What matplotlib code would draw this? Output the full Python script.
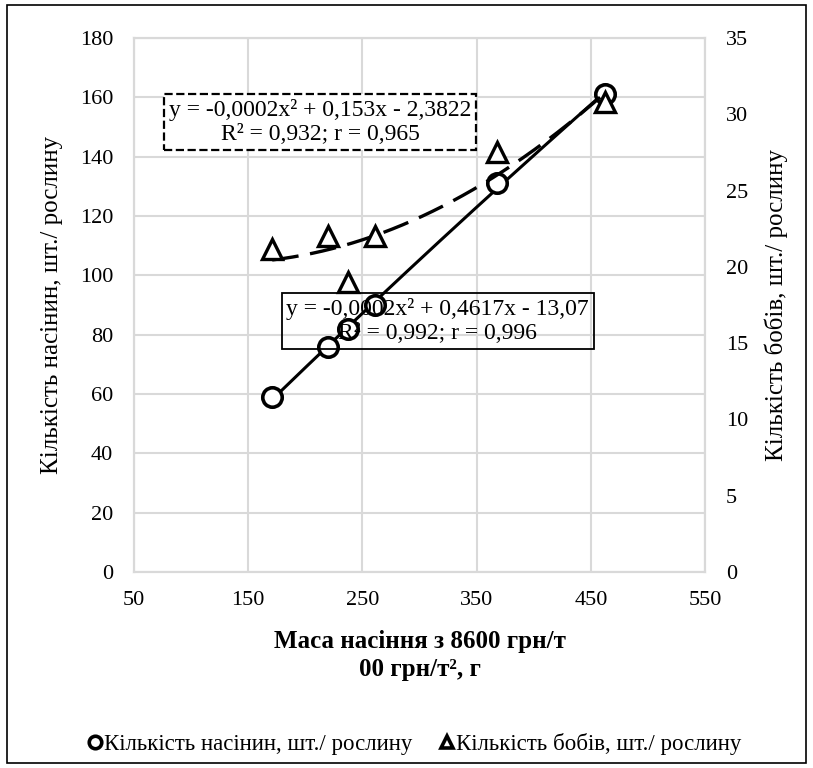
import numpy as np
import matplotlib
matplotlib.use('Agg')
import matplotlib.pyplot as plt
from matplotlib.lines import Line2D
from matplotlib.patches import Rectangle

plt.rcParams['font.family'] = ['Liberation Serif', 'DejaVu Serif']

# data
seed_mass = [171, 220, 237, 261, 368, 462]
seeds = [59, 76, 82, 90, 131, 161]
pods = [21.2, 22, 19, 22, 27.5, 30.8]

LABELS = ['Кількість насінин, шт./ рослину',
          'Кількість бобів, шт./ рослину']
EQ_SEEDS = 'y = -0,0002x² + 0,4617x - 13,07\nR² = 0,992; r = 0,996'
EQ_PODS = 'y = -0,0002x² + 0,153x - 2,3822\nR² = 0,932; r = 0,965'

GRID = '#d9d9d9'
FS = 16

fig = plt.figure(figsize=(8.13, 7.68), dpi=100)
ax = fig.add_axes([0.1648, 0.2552, 0.7024, 0.6953])
ax2 = ax.twinx()

# polynomial trendlines (order 2), as excel does
xs = np.linspace(min(seed_mass), max(seed_mass), 200)
p1 = np.polyfit(seed_mass, seeds, 2)
p2 = np.polyfit(seed_mass, pods, 2)

ax.plot(xs, np.polyval(p1, xs), '-', color='black', lw=2.2, zorder=3)
ax.plot(seed_mass, seeds, 'o', ms=14, mfc='white', mec='black', mew=2.6,
        zorder=4, label=LABELS[0])
ax2.plot(xs, np.polyval(p2, xs), '--', color='black', lw=2.4,
         dashes=(8, 3.5), zorder=3)
ax2.plot(seed_mass, pods, '^', ms=14, mfc='white', mec='black', mew=2.4,
         zorder=4, label=LABELS[1])

ax.set_xlim(50, 550)
ax.set_ylim(0, 180)
ax.set_xticks(range(50, 551, 100))
ax.set_yticks(range(0, 181, 20))
ax2.set_ylim(0, 35)
ax2.set_yticks(range(0, 36, 5))

ax.grid(True, color=GRID, lw=1.5)
ax.set_axisbelow(True)
for a in (ax, ax2):
    for s in a.spines.values():
        s.set_color(GRID)
        s.set_linewidth(1.5)
    a.tick_params(length=0, labelsize=FS, pad=15)
ax.tick_params(axis='x', pad=14)

ax.set_ylabel(LABELS[0], fontsize=18, labelpad=12)
ax2.set_ylabel(LABELS[1], fontsize=18, labelpad=12)
ax.set_xlabel('Маса насіння з 8600 грн/т\n00 грн/т², г', fontsize=18,
              fontweight='bold', linespacing=1.3, labelpad=14)

ax2.text(0.326, 0.843, EQ_PODS, transform=ax.transAxes, fontsize=17,
         ha='center', va='center', multialignment='center', zorder=6,
         bbox=dict(boxstyle='square,pad=0.2', fc='white', ec='black',
                   ls='--', lw=1.6))
ax2.text(0.532, 0.470, EQ_SEEDS, transform=ax.transAxes, fontsize=17,
         ha='center', va='center', multialignment='center', zorder=6,
         bbox=dict(boxstyle='square,pad=0.2', fc='none', ec='black', lw=1.3))

handles = [Line2D([], [], ls='none', marker='o', ms=9, mfc='white',
                  mec='black', mew=2.6),
           Line2D([], [], ls='none', marker='^', ms=9, mfc='white',
                  mec='black', mew=2.6)]
fig.legend(handles, LABELS, loc='center', bbox_to_anchor=(0.51, 0.031),
           ncol=2, frameon=False, fontsize=16.5, handlelength=0.6,
           handletextpad=0.1, columnspacing=1.2)

fig.patches.append(Rectangle((0.009, 0.006), 0.983, 0.987,
                             transform=fig.transFigure, fill=False,
                             ec='black', lw=1.2))

fig.savefig('out.png', dpi=100)
